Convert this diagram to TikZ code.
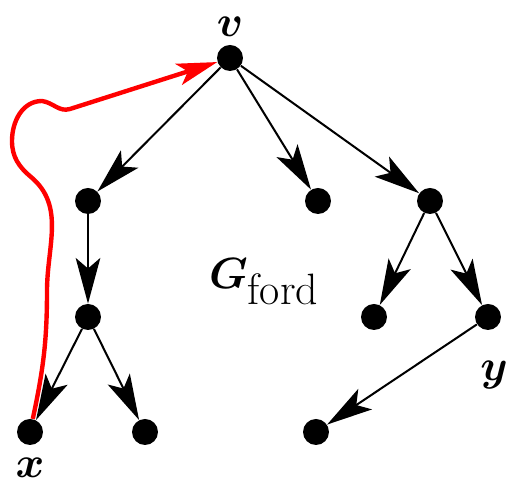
\documentclass[tikz,border=0pt]{standalone}
\usepackage{amsmath,bm}
\usetikzlibrary{arrows.meta}

\tikzset{
	vertex/.style={shape=circle, fill=black, inner sep=0pt, minimum size=0.52cm},
	vlabel/.style={font=\fontsize{25}{30}\selectfont, inner sep=0pt},
	treeedge/.style={draw, line width=1.15pt, -{Stealth[length=26pt, width=14pt, inset=6pt]}},
	backwalk/.style={draw=red, line width=2.5pt, -{Stealth[length=23pt, width=12.5pt, inset=5.5pt]}}
}

\begin{document}
\begin{tikzpicture}[x=0.02cm, y=0.02cm]
	\useasboundingbox (0,0) rectangle (508,486);
	% Vertices:
	\node[vertex] (v) at (230,428) {};
	\node[vertex] (a) at (88,285) {};
	\node[vertex] (b) at (318,285) {};
	\node[vertex] (c) at (430,285) {};
	\node[vertex] (d) at (88,169) {};
	\node[vertex] (e) at (374,169) {};
	\node[vertex] (y) at (488,169) {};
	\node[vertex] (x) at (30,54) {};
	\node[vertex] (f) at (145,54) {};
	\node[vertex] (g) at (316,54) {};
	% Labels:
	\node[vlabel] (vtext) at (230,459) {$\bm{v}$};
	\node[vlabel] (xtext) at (30,18) {$\bm{x}$};
	\node[vlabel] (ytext) at (494,111) {$\bm{y}$};
	\node[vlabel] (gtext) at (264,204) {$\bm{G}_{\mbox{ford}}$};
	% Tree edges:
	\draw[treeedge] (v) -- (a);
	\draw[treeedge] (v) -- (b);
	\draw[treeedge] (v) -- (c);
	\draw[treeedge] (a) -- (d);
	\draw[treeedge] (d) -- (x);
	\draw[treeedge] (d) -- (f);
	\draw[treeedge] (c) -- (e);
	\draw[treeedge] (c) -- (y);
	\draw[treeedge] (y) -- (g);
	% Walk back to v:
	\draw[backwalk] (x) to[out=78, in=-90] (47,195) to[out=90, in=-40] (31,309) to[out=140, in=-90] (12,345) to[out=90, in=180] (42,385) to[out=-8, in=197] (70,377) -- (v);
\end{tikzpicture}
\end{document}
